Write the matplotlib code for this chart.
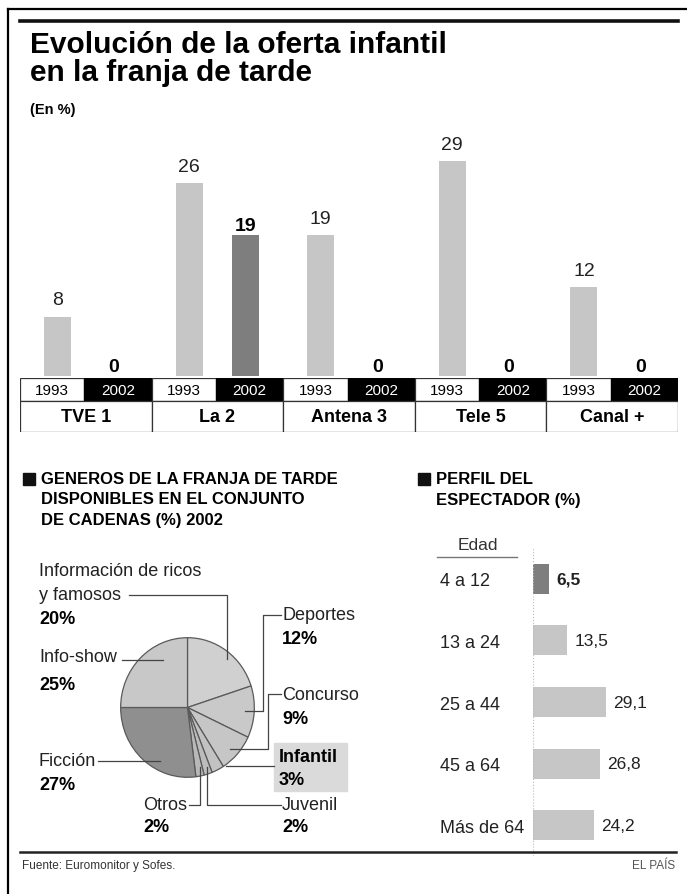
import numpy as np
import matplotlib
matplotlib.use("Agg")
import matplotlib.pyplot as plt
from matplotlib.patches import Rectangle

plt.rcParams['font.family'] = ['Liberation Sans', 'DejaVu Sans']

W, H = 687, 895

# datos: oferta infantil (%)
canales = ["TVE 1", "La 2", "Antena 3", "Tele 5", "Canal +"]
anios = ["1993", "2002"]
oferta_1993 = [8, 26, 19, 29, 12]
oferta_2002 = [0, 19, 0, 0, 0]

# generos 2002
generos = ["Información de ricos\ny famosos", "Deportes", "Concurso", "Infantil",
           "Juvenil", "Otros", "Ficción", "Info-show"]
generos_pct = [20, 12, 9, 3, 2, 2, 27, 25]

# perfil del espectador
edades = ["4 a 12", "13 a 24", "25 a 44", "45 a 64", "Más de 64"]
perfil = [6.5, 13.5, 29.1, 26.8, 24.2]

LIGHT = "#c6c6c6"
DARK = "#7e7e7e"


def px_axes(fig, x0, y0, x1, y1):
    # caja en pixeles (origen arriba a la izquierda) -> axes
    return fig.add_axes([x0 / W, 1 - y1 / H, (x1 - x0) / W, (y1 - y0) / H])


fig = plt.figure(figsize=(W / 100, H / 100), dpi=100)
fig.patch.set_facecolor("white")

# capa de textos y lineas en pixeles
ov = fig.add_axes([0, 0, 1, 1])
ov.set_xlim(0, W)
ov.set_ylim(H, 0)
ov.axis("off")
ov.set_zorder(5)
ov.patch.set_alpha(0)

# marco
ov.plot([8, W], [10, 10], color="black", lw=1.6)
ov.plot([8, 8], [10, H], color="black", lw=1.6)
ov.plot([20, 678], [22, 22], color="#111111", lw=2.6)
ov.plot([20, 676], [853, 853], color="#222222", lw=1.8)

ov.text(30, 45, "Evolución de la oferta infantil", fontsize=21.5, fontweight="bold",
        va="center", ha="left")
ov.text(30, 73, "en la franja de tarde", fontsize=21.5, fontweight="bold",
        va="center", ha="left")
ov.text(30, 110, "(En %)", fontsize=10.5, fontweight="bold", va="center", ha="left")

# ---- grafico de barras ----
ax = px_axes(fig, 20, 140, 678, 377)
x = np.arange(len(canales))
off1, off2, bw = 0.285, 0.715, 0.205
b1 = ax.bar(x + off1, oferta_1993, width=bw, color=LIGHT)
b2 = ax.bar(x + off2, oferta_2002, width=bw, color=DARK)
ax.bar_label(b1, padding=6, fontsize=14, color="#222222")
ax.bar_label(b2, padding=1, fontsize=14, fontweight="bold", color="black")
ax.set_xlim(0, len(canales))
ax.set_ylim(0, 32)
ax.axis("off")

# filas de etiquetas
lab = px_axes(fig, 20, 379, 678, 433)
lab.set_xlim(0, len(canales))
lab.set_ylim(54, 0)
lab.axis("off")
split = 0.49
for i, c in enumerate(canales):
    lab.add_patch(Rectangle((i, 0), split, 23, facecolor="white", edgecolor="#333333", lw=0.9))
    lab.add_patch(Rectangle((i + split, 0), 1 - split, 23, facecolor="black", edgecolor="black", lw=0.9))
    lab.add_patch(Rectangle((i, 23), 1, 31, facecolor="white", edgecolor="#333333", lw=0.9))
    lab.text(i + split / 2, 12, anios[0], ha="center", va="center", fontsize=11, color="black")
    lab.text(i + split + (1 - split) / 2, 12, anios[1], ha="center", va="center",
             fontsize=11, color="white")
    lab.text(i + 0.5, 39, c, ha="center", va="center", fontsize=13, fontweight="bold")

# ---- generos (tarta) ----
ov.add_patch(Rectangle((23, 474), 12, 12, color="#111111"))
for k, t in enumerate(["GENEROS DE LA FRANJA DE TARDE", "DISPONIBLES EN EL CONJUNTO",
                       "DE CADENAS (%) 2002"]):
    ov.text(41, 480 + k * 20, t, fontsize=12, fontweight="bold", va="center", ha="left")

pa = px_axes(fig, 120, 638, 255, 779)
colores = ["#d0d0d0", "#c9c9c9", "#c6c6c6", "#c2c2c2", "#bcbcbc", "#b8b8b8", "#8f8f8f", "#c8c8c8"]
pa.pie(generos_pct, startangle=90, counterclock=False, colors=colores,
       wedgeprops=dict(edgecolor="#5a5a5a", linewidth=0.9))
pa.set_xlim(-1.01, 1.01)
pa.set_ylim(-1.01, 1.01)
pa.set_aspect("auto")

fs = 13
lc = "#444444"
# Información de ricos
ov.text(39, 572, "Información de ricos", fontsize=fs, va="center", color="#222222")
ov.text(39, 596, "y famosos", fontsize=fs, va="center", color="#222222")
ov.text(39, 620, f"{generos_pct[0]}%", fontsize=fs, fontweight="bold", va="center")
ov.plot([129, 227, 227], [596, 596, 660], color=lc, lw=0.9)
# Info-show
ov.text(39, 658, "Info-show", fontsize=fs, va="center", color="#222222")
ov.text(39, 686, f"{generos_pct[7]}%", fontsize=fs, fontweight="bold", va="center")
ov.plot([122, 163], [661, 661], color=lc, lw=0.9)
# Ficción
ov.text(39, 762, "Ficción", fontsize=fs, va="center", color="#222222")
ov.text(39, 786, f"{generos_pct[6]}%", fontsize=fs, fontweight="bold", va="center")
ov.plot([98, 160], [762, 762], color=lc, lw=0.9)
# Deportes
ov.text(282, 616, "Deportes", fontsize=fs, va="center", color="#222222")
ov.text(282, 640, f"{generos_pct[1]}%", fontsize=fs, fontweight="bold", va="center")
ov.plot([281, 263, 263, 245], [616, 616, 712, 712], color=lc, lw=0.9)
# Concurso
ov.text(282, 695, "Concurso", fontsize=fs, va="center", color="#222222")
ov.text(282, 720, f"{generos_pct[2]}%", fontsize=fs, fontweight="bold", va="center")
ov.plot([281, 268, 268, 230], [695, 695, 750, 750], color=lc, lw=0.9)
# Infantil (resaltado)
ov.add_patch(Rectangle((274, 744), 73, 48, color="#dadada", zorder=0))
ov.text(279, 758, "Infantil", fontsize=fs, fontweight="bold", va="center")
ov.text(279, 781, f"{generos_pct[3]}%", fontsize=fs, fontweight="bold", va="center")
ov.plot([274, 226], [767, 767], color=lc, lw=0.9)
# Juvenil
ov.text(282, 806, "Juvenil", fontsize=fs, va="center", color="#222222")
ov.text(282, 828, f"{generos_pct[4]}%", fontsize=fs, fontweight="bold", va="center")
ov.plot([281, 207, 207], [806, 806, 768], color=lc, lw=0.9)
# Otros
ov.text(143, 806, "Otros", fontsize=fs, va="center", color="#222222")
ov.text(143, 828, f"{generos_pct[5]}%", fontsize=fs, fontweight="bold", va="center")
ov.plot([189, 200, 200], [806, 806, 768], color=lc, lw=0.9)

# ---- perfil del espectador ----
ov.add_patch(Rectangle((418, 474), 12, 12, color="#111111"))
ov.text(436, 480, "PERFIL DEL", fontsize=12, fontweight="bold", va="center")
ov.text(436, 500, "ESPECTADOR (%)", fontsize=12, fontweight="bold", va="center")
ov.text(478, 545, "Edad", fontsize=12.5, ha="center", va="center", color="#333333")
ov.plot([437, 517], [558, 558], color="#777777", lw=1.0)

hx = px_axes(fig, 533, 549, 683, 857)
y = np.arange(len(edades))
hcol = [DARK] + [LIGHT] * (len(edades) - 1)
hb = hx.barh(y, perfil, height=0.49, color=hcol)
for rect, v, k in zip(hb, perfil, range(len(perfil))):
    hx.text(v + 3, rect.get_y() + rect.get_height() / 2, f"{v:.1f}".replace(".", ","),
            va="center", ha="left", fontsize=12.5,
            fontweight="bold" if k == 0 else "normal", color="#222222")
hx.axvline(0, color="#bbbbbb", lw=0.8, ls=":")
hx.set_xlim(0, 60)
hx.set_ylim(len(edades) - 0.5, -0.5)
hx.set_yticks(y)
hx.set_yticklabels(edades, fontsize=13, color="#222222")
for t in hx.get_yticklabels():
    t.set_ha("left")
hx.tick_params(axis="y", length=0, pad=93 * 0.72)
hx.set_xticks([])
for s in hx.spines.values():
    s.set_visible(False)
hx.patch.set_alpha(0)

# fuente
ov.text(22, 866, "Fuente: Euromonitor y Sofes.", fontsize=8.5, va="center", color="#333333")
ov.text(675, 866, "EL PAÍS", fontsize=8.5, va="center", ha="right", color="#555555")

fig.savefig("out.png", dpi=100)
